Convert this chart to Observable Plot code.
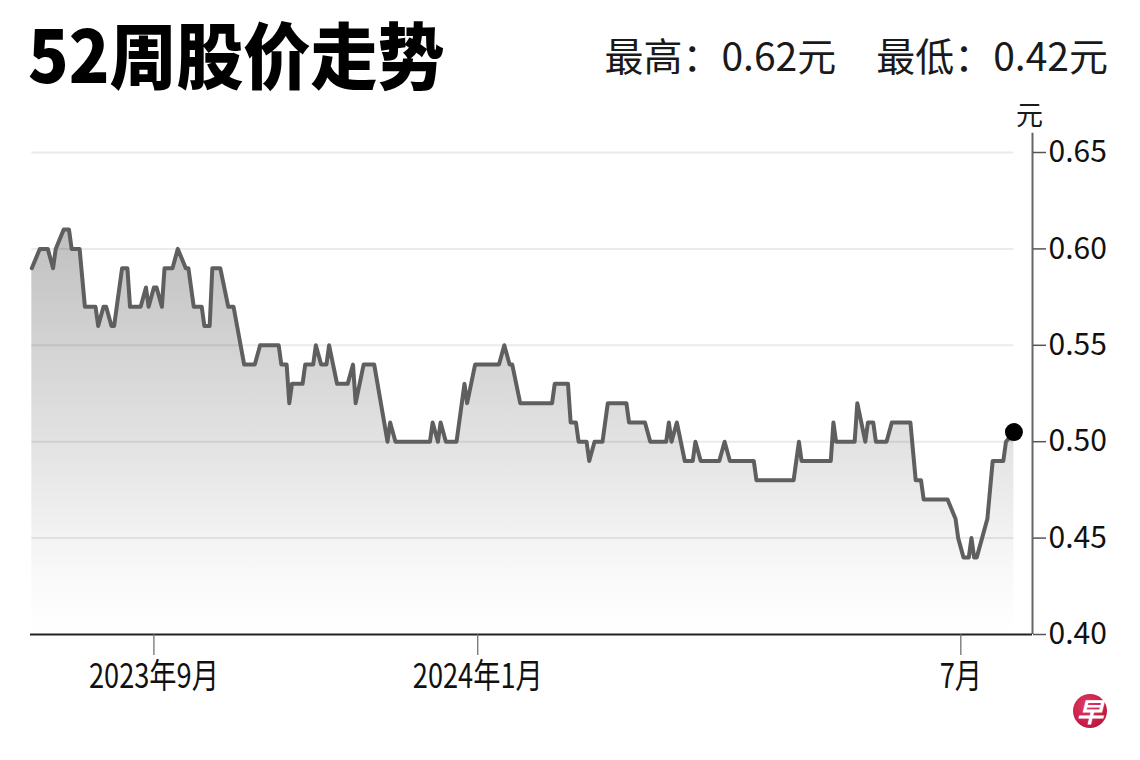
<!DOCTYPE html>
<html><head><meta charset="utf-8">
<script src="https://cdn.jsdelivr.net/npm/d3@7"></script>
<script src="https://cdn.jsdelivr.net/npm/@observablehq/plot@0.6"></script>
<style>
html,body{margin:0;padding:0;background:#fff;}
body{width:1140px;height:760px;overflow:hidden;position:relative;font-family:"Noto Sans CJK SC","Noto Sans",sans-serif;color:#111;}
#title{position:absolute;left:28px;top:16px;font-size:72px;line-height:72px;font-weight:900;white-space:nowrap;transform:scaleX(0.93);transform-origin:left top;color:#000;}
#stats{position:absolute;right:32px;top:35px;font-size:39px;line-height:39px;white-space:nowrap;color:#1a1a1a;}
#stats span + span{margin-left:40px;}
#unit{position:absolute;left:1016px;top:100px;font-size:27px;line-height:27px;color:#1a1a1a;}
#logo{position:absolute;left:1073px;top:694px;width:34px;height:34px;border-radius:50%;background:radial-gradient(circle at 40% 35%,#e23a63,#b00c36);color:#fff;font-size:27px;line-height:34px;text-align:center;font-weight:700;font-style:italic;}
#chart{position:absolute;left:0;top:100px;}
</style></head><body>
<div id="title"></div>
<div id="stats"></div>
<div id="unit"></div>
<div id="logo">早</div>
<div id="chart"></div>
<script>
// ---- data ----
const dates = [
  "2023-07-17","2023-07-20","2023-07-23","2023-07-25","2023-07-26","2023-07-29","2023-07-31",
  "2023-08-01","2023-08-04","2023-08-06","2023-08-10","2023-08-11","2023-08-13","2023-08-14","2023-08-16","2023-08-17","2023-08-20","2023-08-22","2023-08-23","2023-08-27","2023-08-29","2023-08-30",
  "2023-09-01","2023-09-02","2023-09-04","2023-09-05","2023-09-08","2023-09-10","2023-09-13","2023-09-14","2023-09-16","2023-09-19","2023-09-20","2023-09-22","2023-09-23","2023-09-26","2023-09-29",
  "2023-10-01","2023-10-05","2023-10-09","2023-10-11","2023-10-18","2023-10-19","2023-10-21","2023-10-22","2023-10-23","2023-10-27","2023-10-28","2023-10-31",
  "2023-11-01","2023-11-03","2023-11-05","2023-11-06","2023-11-09","2023-11-13","2023-11-15","2023-11-16","2023-11-19","2023-11-23","2023-11-28","2023-11-29",
  "2023-12-01","2023-12-14","2023-12-15","2023-12-17","2023-12-18","2023-12-20","2023-12-24","2023-12-27","2023-12-28","2023-12-31",
  "2024-01-09","2024-01-11","2024-01-13","2024-01-14","2024-01-17","2024-01-29","2024-01-30",
  "2024-02-04","2024-02-05","2024-02-07","2024-02-08","2024-02-11","2024-02-12","2024-02-14","2024-02-17","2024-02-19","2024-02-26","2024-02-27",
  "2024-03-04","2024-03-06","2024-03-12","2024-03-13","2024-03-14","2024-03-16","2024-03-19","2024-03-22","2024-03-23","2024-03-25",
  "2024-04-01","2024-04-03","2024-04-05","2024-04-14","2024-04-15","2024-04-29",
  "2024-05-01","2024-05-02","2024-05-13","2024-05-14","2024-05-15","2024-05-22","2024-05-23","2024-05-26","2024-05-27","2024-05-29","2024-05-30",
  "2024-06-03","2024-06-05","2024-06-12","2024-06-14","2024-06-16","2024-06-17","2024-06-26","2024-06-29","2024-06-30",
  "2024-07-02","2024-07-04","2024-07-05","2024-07-06","2024-07-07","2024-07-09","2024-07-11","2024-07-13","2024-07-17","2024-07-18","2024-07-21"
];
const prices = [
  0.59,0.60,0.60,0.59,0.60,0.61,0.61,
  0.60,0.60,0.57,0.57,0.56,0.57,0.57,0.56,0.56,0.59,0.59,0.57,0.57,0.58,0.57,
  0.58,0.58,0.57,0.59,0.59,0.60,0.59,0.59,0.57,0.57,0.56,0.56,0.59,0.59,0.57,
  0.57,0.54,0.54,0.55,0.55,0.54,0.54,0.52,0.53,0.53,0.54,0.54,
  0.55,0.54,0.54,0.55,0.53,0.53,0.54,0.52,0.54,0.54,0.50,0.51,
  0.50,0.50,0.51,0.50,0.51,0.50,0.50,0.53,0.52,0.54,
  0.54,0.55,0.54,0.54,0.52,0.52,0.53,
  0.53,0.51,0.51,0.50,0.50,0.49,0.50,0.50,0.52,0.52,0.51,
  0.51,0.50,0.50,0.51,0.50,0.51,0.49,0.49,0.50,0.49,
  0.49,0.50,0.49,0.49,0.48,0.48,
  0.50,0.49,0.49,0.51,0.50,0.50,0.52,0.50,0.51,0.51,0.50,
  0.50,0.51,0.51,0.48,0.48,0.47,0.47,0.46,0.45,
  0.44,0.44,0.45,0.44,0.44,0.45,0.46,0.49,0.49,0.50,0.505
];
const yTicks = [0.40, 0.45, 0.50, 0.55, 0.60, 0.65];
const xTickDates = ["2023-09-01", "2024-01-01", "2024-07-01"];
const xTickLabels = ["2023年9月", "2024年1月", "7月"];
const xDomain = ["2023-07-16T12:00:00Z", "2024-07-28T00:00:00Z"];
const titleText = "52周股价走势";
const statLabels = ["最高：0.62元", "最低：0.42元"];
const unitText = "元";

// ---- text ----
document.getElementById("title").textContent = titleText;
document.getElementById("stats").innerHTML = statLabels.map(s => `<span>${s}</span>`).join("");
document.getElementById("unit").textContent = unitText;

// ---- table ----
const data = dates.map((d, i) => ({date: new Date(d), price: prices[i]}));
const first = data[0], last = data[data.length - 1];
const xEnd = new Date(xDomain[1]);
const yMin = yTicks[0], yMax = yTicks[yTicks.length - 1];
const tickDates = xTickDates.map(d => new Date(d));
const labelOf = new Map(tickDates.map((d, i) => [+d, xTickLabels[i]]));

const gradientDefs = () => {
  const defs = d3.create("svg:defs");
  const g = defs.append("linearGradient").attr("id", "areaGrad")
    .attr("x1", 0).attr("x2", 0).attr("y1", 0).attr("y2", 1);
  g.append("stop").attr("offset", "0%").attr("stop-color", "#c0c0c0");
  g.append("stop").attr("offset", "55%").attr("stop-color", "#e4e4e4");
  g.append("stop").attr("offset", "85%").attr("stop-color", "#f9f9f9");
  g.append("stop").attr("offset", "100%").attr("stop-color", "#ffffff");
  return defs.node();
};

const chart = Plot.plot({
  width: 1140,
  height: 660,
  marginTop: 52,
  marginBottom: 126,
  marginLeft: 30,
  marginRight: 108,
  style: {fontFamily: '"Noto Sans CJK SC","Noto Sans",sans-serif', color: "#111", background: "transparent", overflow: "visible"},
  x: {type: "utc", domain: xDomain.map(d => new Date(d))},
  y: {domain: [yMin, yMax]},
  marks: [
    gradientDefs,
    Plot.areaY(data, {x: "date", y1: () => yMin, y2: "price", fill: "url(#areaGrad)"}),
    Plot.ruleY(yTicks.slice(1), {x1: () => first.date, x2: () => last.date, stroke: "#000", strokeOpacity: 0.08, strokeWidth: 2}),
    Plot.ruleX([xEnd], {y1: () => yMin, y2: () => yMax + 0.01, stroke: "#666", strokeWidth: 2}),
    Plot.ruleY([yMin], {stroke: "#222", strokeWidth: 1.8}),
    Plot.axisY({anchor: "right", ticks: yTicks, tickFormat: d3.format(".2f"), tickSize: 13, tickPadding: 3, fontSize: 30, label: null, stroke: "#555", strokeWidth: 1.5, fill: "#111"}),
    Plot.axisX({ticks: tickDates, tickFormat: d => labelOf.get(+d), tickSize: 21, tickPadding: 8, fontSize: 34, label: null, stroke: "#666", strokeWidth: 1.2, fill: "#111"}),
    Plot.line(data, {x: "date", y: "price", stroke: "#5f5f5f", strokeWidth: 4, strokeLinejoin: "round"}),
    Plot.dot([last], {x: "date", y: "price", r: 9, fill: "#000", stroke: "none"})
  ]
});
document.getElementById("chart").appendChild(chart);

// condense the x-axis tick labels horizontally like the reference
d3.select(chart).selectAll('g[aria-label="x-axis tick label"] text').each(function() {
  const w = this.getComputedTextLength();
  this.setAttribute("textLength", (w * 0.8).toFixed(1));
  this.setAttribute("lengthAdjust", "spacingAndGlyphs");
});
</script>
</body></html>
